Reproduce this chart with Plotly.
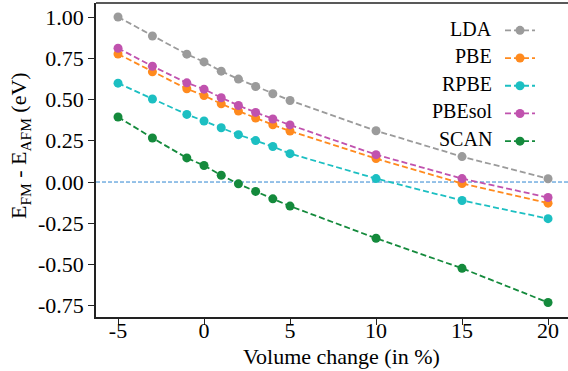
import plotly.graph_objects as go

volume_change = [-5, -3, -1, 0, 1, 2, 3, 4, 5, 10, 15, 20]
lda = [1.00, 0.885, 0.775, 0.728, 0.672, 0.624, 0.579, 0.535, 0.494, 0.311, 0.154, 0.020]
pbe = [0.776, 0.668, 0.565, 0.524, 0.474, 0.430, 0.388, 0.347, 0.309, 0.142, -0.009, -0.128]
rpbe = [0.599, 0.503, 0.410, 0.370, 0.329, 0.287, 0.251, 0.215, 0.172, 0.021, -0.112, -0.222]
pbesol = [0.811, 0.702, 0.601, 0.563, 0.511, 0.464, 0.422, 0.382, 0.346, 0.166, 0.021, -0.094]
scan = [0.394, 0.267, 0.146, 0.100, 0.041, -0.011, -0.057, -0.102, -0.146, -0.341, -0.523, -0.730]

series_names = ["LDA", "PBE", "RPBE", "PBEsol", "SCAN"]
series_values = [lda, pbe, rpbe, pbesol, scan]
series_colors = ["#9b9b9b", "#ff8a1e", "#1cbfc2", "#c052ae", "#148a3c"]

x_tickvals = [-5, 0, 5, 10, 15, 20]
x_ticktext = ["-5", "0", "5", "10", "15", "20"]
y_tickvals = [1.0, 0.75, 0.5, 0.25, 0.0, -0.25, -0.5, -0.75]
y_ticktext = ["1.00", "0.75", "0.50", "0.25", "0.00", "-0.25", "-0.50", "-0.75"]

FONT = "'Liberation Serif', 'Times New Roman', Times, serif"

fig = go.Figure()
for name, vals, col in zip(series_names, series_values, series_colors):
    fig.add_trace(go.Scatter(
        x=volume_change, y=vals, mode="lines+markers", name=" ",
        legendgroup=name,
        line=dict(color=col, width=1.8, dash="6px,3px"),
        marker=dict(color=col, size=9),
    ))

fig.add_hline(y=0, line=dict(color="#2e86d1", width=1, dash="4px,2px"), layer="below")

W, H = 568, 371
L, R, T, B = 96, 0, 3, 54
pw, ph = W - L - R, H - T - B

def px_x(px):
    return (px - L) / pw

def px_y(py):
    return (H - B - py) / ph

annotations = []
leg_y = [29, 56, 83.5, 111, 138.5]
for name, yy in zip(series_names, leg_y):
    annotations.append(dict(text=name, x=px_x(494), y=px_y(yy), xref="paper", yref="paper",
                            xanchor="right", yanchor="middle", showarrow=False,
                            font=dict(family=FONT, size=20, color="black")))
annotations.append(dict(text="E<sub>FM</sub> - E<sub>AFM</sub> (eV)", x=px_x(20), y=px_y(146),
                        xref="paper", yref="paper", xanchor="center", yanchor="middle",
                        textangle=-90, showarrow=False,
                        font=dict(family=FONT, size=22, color="black")))
annotations.append(dict(text="Volume change (in %)", x=px_x(341), y=px_y(356),
                        xref="paper", yref="paper", xanchor="center", yanchor="middle",
                        showarrow=False, font=dict(family=FONT, size=22, color="black")))

fig.update_layout(
    width=W, height=H,
    margin=dict(l=L, r=R, t=T, b=B, autoexpand=False),
    paper_bgcolor="white", plot_bgcolor="white",
    font=dict(family=FONT, size=20, color="black"),
    showlegend=True,
    legend=dict(x=px_x(500), y=px_y(11.5), xanchor="left", yanchor="top",
                bgcolor="rgba(0,0,0,0)", font=dict(family=FONT, size=19),
                tracegroupgap=0, itemwidth=30),
    annotations=annotations,
    xaxis=dict(range=[-6.28, 21.16], tickvals=x_tickvals, ticktext=x_ticktext,
               showgrid=False, zeroline=False, showline=True, linecolor="#222",
               linewidth=1.5, mirror=False, ticks="outside", ticklen=6, tickwidth=1.3,
               tickcolor="#222", ticklabelstandoff=-13,
               tickfont=dict(family=FONT, size=22, color="black")),
    yaxis=dict(range=[-0.818, 1.085], tickvals=y_tickvals, ticktext=y_ticktext,
               showgrid=False, zeroline=False, showline=True, linecolor="#222",
               linewidth=1.5, ticks="outside", ticklen=6, tickwidth=1.3,
               tickcolor="#222", tickfont=dict(family=FONT, size=22, color="black")),
)
fig.add_shape(type="line", xref="paper", yref="paper", x0=0, x1=1, y0=1, y1=1,
              line=dict(color="#222", width=1.5))

fig.write_html("out.html", config={"displayModeBar": False},
               post_script="document.body.style.margin='0';document.body.style.padding='0';")
